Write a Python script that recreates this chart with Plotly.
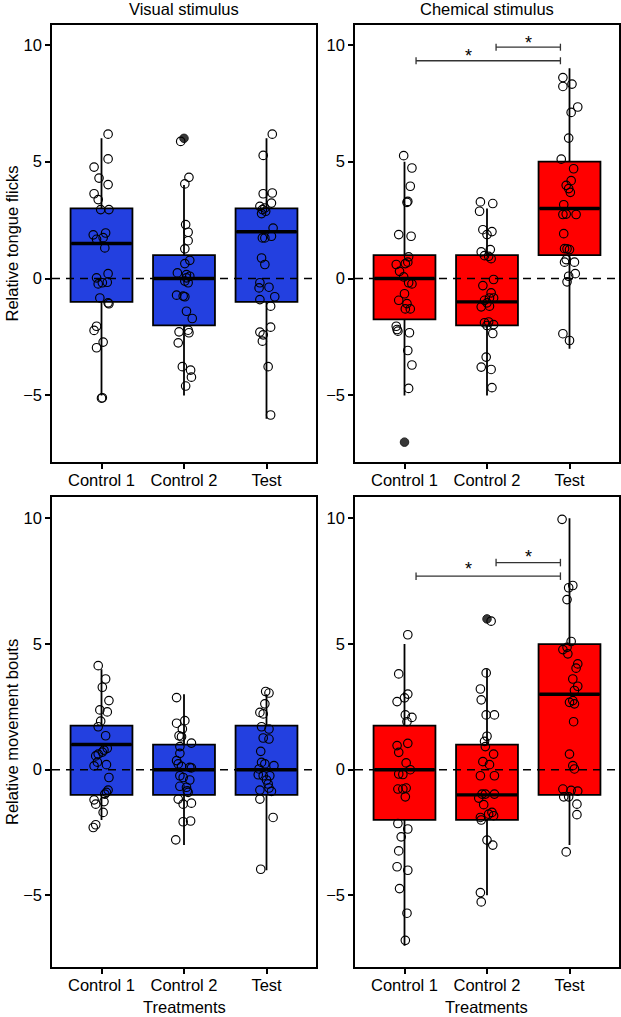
import plotly.graph_objects as go

# ---------------- data ----------------
TREATMENTS = ["Control 1", "Control 2", "Test"]
POSITIONS = [1, 2, 3]
Y_TICKS = [-5, 0, 5, 10]
Y_TICK_TEXT = ["\u22125", "0", "5", "10"]

# box statistics: q1, median, q3, lower whisker, upper whisker
VIS_FLICK_Q1 = [-1, -2, -1]
VIS_FLICK_MED = [1.5, 0, 2]
VIS_FLICK_Q3 = [3, 1, 3]
VIS_FLICK_LO = [-5, -5, -6]
VIS_FLICK_HI = [6, 4, 6]

CHEM_FLICK_Q1 = [-1.75, -2, 1]
CHEM_FLICK_MED = [0, -1, 3]
CHEM_FLICK_Q3 = [1, 1, 5]
CHEM_FLICK_LO = [-5, -5, -3]
CHEM_FLICK_HI = [5, 3, 9]

VIS_MOVE_Q1 = [-1, -1, -1]
VIS_MOVE_MED = [1, 0, 0]
VIS_MOVE_Q3 = [1.75, 1, 1.75]
VIS_MOVE_LO = [-2, -3, -4]
VIS_MOVE_HI = [4, 3, 3]

CHEM_MOVE_Q1 = [-2, -2, -1]
CHEM_MOVE_MED = [0, -1, 3]
CHEM_MOVE_Q3 = [1.75, 1, 5]
CHEM_MOVE_LO = [-7, -5, -3]
CHEM_MOVE_HI = [5, 4, 10]

# outliers (boxplot)
VIS_FLICK_OUT_X = [2]
VIS_FLICK_OUT_Y = [6]
CHEM_FLICK_OUT_X = [1]
CHEM_FLICK_OUT_Y = [-7]
VIS_MOVE_OUT_X = []
VIS_MOVE_OUT_Y = []
CHEM_MOVE_OUT_X = [2]
CHEM_MOVE_OUT_Y = [6]

# jittered observations
VIS_FLICK_X = [1.08, 1.08, 0.91, 0.97, 1.08, 0.91, 0.96, 0.99, 1.09, 0.90, 1.05, 1.02, 0.94, 1.04,
               0.94, 1.08, 0.96, 1.01, 1.07, 0.98, 1.08, 1.09, 0.94, 0.91, 1.02, 0.94, 1.01, 1.00,
               1.96, 2.01, 2.06, 2.02, 2.05, 2.05, 2.01, 2.07, 2.01, 1.92, 2.03, 2.07, 2.01, 2.05,
               2.03, 1.91, 2.01, 1.99, 2.03, 2.10, 1.94, 2.05, 2.06, 1.93, 1.98, 2.08, 2.09, 2.02,
               3.07, 2.96, 2.96, 3.07, 3.06, 2.92, 2.95, 2.98, 2.94, 2.99, 3.08, 3.06, 2.98, 2.95,
               2.94, 2.98, 2.92, 2.91, 3.03, 3.10, 2.92, 3.05, 3.05, 2.92, 2.96, 2.95, 3.02, 3.05]
VIS_FLICK_Y = [6.18, 5.12, 4.77, 4.30, 4.02, 3.63, 3.38, 2.95, 2.95, 1.87, 1.95, 1.75, 1.68, 1.31,
               0.03, 0.21, -0.23, -0.18, -0.16, -0.83, -1.04, -1.08, -2.04, -2.22, -2.72, -2.96, -5.10, -5.12,
               5.87, 4.05, 4.33, 2.31, 1.98, 1.62, 1.27, 0.78, 0.64, 0.24, 0.17, 0.10, -0.11, -0.18,
               0.03, -0.71, -0.78, -0.75, -1.40, -1.71, -2.28, -2.21, -2.32, -2.75, -3.77, -3.92, -4.22, -4.60,
               6.18, 5.27, 3.63, 3.66, 3.23, 3.09, 2.95, 3.02, 2.78, 2.88, 2.16, 1.81, 1.74, 1.74,
               0.88, 0.60, -0.18, -0.40, -0.37, -0.78, -0.90, -1.18, -2.08, -2.29, -2.41, -2.68, -3.77, -5.84]

CHEM_FLICK_X = [0.99, 1.09, 1.07, 1.04, 1.03, 0.93, 1.08, 1.05, 1.04, 1.01, 0.90, 0.94, 0.99, 1.05,
                1.09, 1.00, 0.93, 1.03, 1.01, 1.07, 0.90, 0.91, 0.92, 1.06, 1.04, 1.09, 1.05,
                1.92, 2.07, 1.91, 1.95, 2.06, 2.00, 1.93, 2.04, 1.97, 2.02, 2.05, 2.08, 1.95, 2.05,
                2.03, 2.08, 1.97, 2.00, 1.93, 2.03, 1.97, 2.02, 2.08, 2.00, 2.07, 1.99, 1.93, 2.05, 2.06,
                2.92, 3.03, 2.92, 3.10, 3.02, 2.99, 2.90, 3.05, 3.02, 2.96, 2.99, 3.01, 2.93, 2.92,
                2.96, 3.08, 2.93, 2.94, 2.97, 3.00, 2.94, 3.06, 2.96, 3.07, 2.99, 2.97, 2.92, 3.00]
CHEM_FLICK_Y = [5.26, 4.73, 3.95, 3.30, 3.26, 1.88, 1.81, 0.93, 0.70, 0.64, 0.60, 0.31, 0.07, -0.18,
                -0.23, -0.65, -0.93, -1.07, -1.30, -1.30, -2.04, -2.18, -2.25, -2.32, -3.08, -3.70, -4.70,
                3.28, 3.21, 2.88, 2.09, 2.01, 1.88, 1.14, 1.24, 0.98, 0.95, 0.85, -0.04, -0.30, -0.61,
                -0.83, -0.83, -0.93, -1.04, -1.21, -1.18, -1.89, -1.86, -1.97, -2.01, -2.35, -3.36, -3.79, -3.89, -4.67,
                8.60, 8.32, 8.22, 7.34, 7.11, 6.01, 5.11, 4.70, 4.19, 3.99, 3.85, 3.69, 3.16, 2.74,
                2.76, 2.74, 1.92, 1.28, 1.27, 1.24, 0.70, 0.70, 0.81, 0.21, 0.10, -0.14, -2.36, -2.65]

VIS_MOVE_X = [0.96, 1.05, 1.01, 1.09, 0.98, 1.07, 0.99, 0.96, 1.05, 1.07, 1.03, 1.01, 0.96, 0.93,
              0.95, 1.06, 0.91, 1.09, 1.08, 1.06, 1.04, 0.91, 1.03, 0.93, 1.02, 0.93, 0.90,
              1.91, 2.01, 1.91, 1.98, 1.94, 1.97, 2.09, 1.95, 1.95, 1.91, 1.93, 1.97, 2.07, 2.09,
              1.95, 1.99, 2.07, 1.95, 2.03, 2.04, 2.05, 1.93, 1.99, 2.09, 1.99, 2.08, 1.90,
              2.99, 3.03, 2.98, 2.92, 2.96, 2.94, 3.03, 2.96, 3.03, 2.93, 2.94, 2.98, 3.09, 2.91,
              2.90, 2.96, 3.04, 3.00, 3.02, 3.03, 2.92, 3.06, 2.92, 3.08, 2.93]
VIS_MOVE_Y = [4.14, 3.61, 3.28, 2.75, 2.38, 2.30, 1.93, 1.71, 1.35, 0.85, 0.78, 0.70, 0.62, 0.55,
              0.30, 0.20, 0.15, -0.31, -0.81, -0.90, -0.97, -1.20, -1.27, -1.37, -1.70, -2.19, -2.30,
              2.87, 1.95, 1.85, 1.62, 1.35, 1.31, 1.06, 0.92, 0.65, 0.36, 0.23, 0.13, 0.09, 0.07,
              -0.24, -0.31, -0.41, -0.66, -0.70, -0.84, -0.90, -1.17, -1.37, -1.33, -2.07, -2.04, -2.79,
              3.11, 3.05, 2.62, 2.28, 2.22, 1.71, 1.62, 1.26, 1.22, 0.73, 0.29, 0.23, 0.16, 0.03,
              -0.20, -0.24, -0.24, -0.41, -0.57, -0.73, -0.81, -0.86, -1.17, -1.90, -3.96]

CHEM_MOVE_X = [1.04, 0.93, 1.04, 1.00, 0.91, 1.01, 1.09, 1.03, 1.04, 0.91, 0.93, 1.02, 1.07, 0.93,
               0.98, 0.92, 0.98, 1.02, 1.01, 0.92, 1.04, 0.96, 0.93, 0.91, 1.04, 0.94, 1.03, 1.01,
               2.05, 1.99, 1.92, 1.93, 1.99, 2.09, 2.00, 1.97, 1.98, 2.08, 1.95, 2.03, 1.92, 2.09,
               1.94, 1.98, 2.09, 1.90, 1.96, 2.02, 2.06, 2.08, 1.92, 1.93, 2.00, 2.07, 1.92, 1.93,
               2.91, 2.99, 3.04, 2.97, 3.02, 2.92, 2.97, 2.98, 3.10, 3.08, 3.04, 3.10, 3.06, 3.00,
               3.04, 3.06, 3.05, 3.00, 3.04, 3.06, 2.92, 3.02, 3.10, 2.93, 2.99, 3.09, 3.09, 2.96]
CHEM_MOVE_Y = [5.37, 3.81, 3.01, 2.86, 2.71, 2.18, 2.08, 1.91, 1.05, 0.96, 0.69, 0.27, 0.00, -0.17,
               -0.19, -0.77, -0.77, -0.73, -1.08, -2.14, -2.36, -2.67, -3.23, -3.86, -4.00, -4.73, -5.71, -6.79,
               5.91, 3.85, 3.21, 2.78, 2.18, 2.18, 1.33, 1.13, 0.92, 0.62, 0.32, 0.20, -0.24, -0.24,
               -0.97, -0.97, -0.97, -1.13, -1.39, -1.77, -1.70, -1.83, -1.90, -2.00, -2.80, -3.00, -4.89, -5.26,
               9.96, 7.24, 7.33, 6.77, 5.10, 4.78, 4.87, 4.61, 4.21, 4.04, 3.61, 3.32, 3.15, 2.68,
               2.75, 2.62, 1.91, 0.62, 0.16, 0.03, -0.77, -0.82, -0.85, -1.08, -1.08, -1.37, -1.79, -3.27]

# significance brackets (chemical panels)
CHEM_FLICK_SIG_X0 = [1.14, 2.11]
CHEM_FLICK_SIG_X1 = [2.89, 2.89]
CHEM_FLICK_SIG_Y = [9.32, 9.90]
CHEM_FLICK_STAR_X = [1.77, 2.50]
CHEM_FLICK_STAR_Y = [9.54, 10.07]

CHEM_MOVE_SIG_X0 = [1.14, 2.11]
CHEM_MOVE_SIG_X1 = [2.89, 2.89]
CHEM_MOVE_SIG_Y = [7.70, 8.24]
CHEM_MOVE_STAR_X = [1.77, 2.50]
CHEM_MOVE_STAR_Y = [7.97, 8.46]

SIG_LABEL = "*"

# ---------------- style ----------------
W, H = 621, 1017
BLUE = "#2340E0"
RED = "#FF0000"
FONT = "Liberation Sans, Arial, sans-serif"
FS = 16.5
BOX_WIDTH = 0.75
X_RANGE = [0.4, 3.6]
Y_RANGE = [-7.85, 10.85]

def px_x(a, b):
    return [a / W, b / W]

def px_y(top, bottom):
    return [1 - bottom / H, 1 - top / H]

DOMAINS = {
    1: (px_x(52, 316), px_y(25, 462)),
    2: (px_x(355, 619), px_y(25, 462)),
    3: (px_x(52, 316), px_y(497, 967)),
    4: (px_x(355, 619), px_y(497, 967)),
}

panels = [
    (1, BLUE, VIS_FLICK_Q1, VIS_FLICK_MED, VIS_FLICK_Q3, VIS_FLICK_LO, VIS_FLICK_HI,
     VIS_FLICK_X, VIS_FLICK_Y, VIS_FLICK_OUT_X, VIS_FLICK_OUT_Y, None),
    (2, RED, CHEM_FLICK_Q1, CHEM_FLICK_MED, CHEM_FLICK_Q3, CHEM_FLICK_LO, CHEM_FLICK_HI,
     CHEM_FLICK_X, CHEM_FLICK_Y, CHEM_FLICK_OUT_X, CHEM_FLICK_OUT_Y,
     (CHEM_FLICK_SIG_X0, CHEM_FLICK_SIG_X1, CHEM_FLICK_SIG_Y, CHEM_FLICK_STAR_X, CHEM_FLICK_STAR_Y)),
    (3, BLUE, VIS_MOVE_Q1, VIS_MOVE_MED, VIS_MOVE_Q3, VIS_MOVE_LO, VIS_MOVE_HI,
     VIS_MOVE_X, VIS_MOVE_Y, VIS_MOVE_OUT_X, VIS_MOVE_OUT_Y, None),
    (4, RED, CHEM_MOVE_Q1, CHEM_MOVE_MED, CHEM_MOVE_Q3, CHEM_MOVE_LO, CHEM_MOVE_HI,
     CHEM_MOVE_X, CHEM_MOVE_Y, CHEM_MOVE_OUT_X, CHEM_MOVE_OUT_Y,
     (CHEM_MOVE_SIG_X0, CHEM_MOVE_SIG_X1, CHEM_MOVE_SIG_Y, CHEM_MOVE_STAR_X, CHEM_MOVE_STAR_Y)),
]

fig = go.Figure()
annotations = []
shapes = []

for (k, color, q1, med, q3, lo, hi, jx, jy, ox, oy, sig) in panels:
    xa = "x" if k == 1 else f"x{k}"
    ya = "y" if k == 1 else f"y{k}"
    # box
    fig.add_trace(go.Box(
        x=POSITIONS, q1=q1, median=med, q3=q3, lowerfence=lo, upperfence=hi,
        width=BOX_WIDTH, fillcolor=color, line=dict(color="black", width=1.8),
        whiskerwidth=0, boxpoints=False, xaxis=xa, yaxis=ya,
        showlegend=False, hoverinfo="skip"))
    # thick median
    mx, my = [], []
    for p, m in zip(POSITIONS, med):
        mx += [p - BOX_WIDTH / 2 + 0.01, p + BOX_WIDTH / 2 - 0.01, None]
        my += [m, m, None]
    fig.add_trace(go.Scatter(x=mx, y=my, mode="lines", line=dict(color="black", width=3.4),
                             xaxis=xa, yaxis=ya, showlegend=False, hoverinfo="skip"))
    # outliers
    if ox:
        fig.add_trace(go.Scatter(x=ox, y=oy, mode="markers",
                                 marker=dict(size=8.5, color="#383838", line=dict(color="#222222", width=1)),
                                 xaxis=xa, yaxis=ya, showlegend=False, hoverinfo="skip"))
    # jittered points
    fig.add_trace(go.Scatter(x=jx, y=jy, mode="markers",
                             marker=dict(size=8.5, color="rgba(0,0,0,0)",
                                         line=dict(color="black", width=1.15)),
                             xaxis=xa, yaxis=ya, showlegend=False, hoverinfo="skip"))
    # dashed zero line
    shapes.append(dict(type="line", xref=f"{xa} domain", x0=0, x1=1, yref=ya, y0=0, y1=0,
                       line=dict(color="black", width=1.6, dash="8px,6px"), layer="above"))
    # significance brackets
    if sig:
        x0s, x1s, ys, sx, sy = sig
        bx, by = [], []
        cap = 0.15
        for a, b, yv in zip(x0s, x1s, ys):
            bx += [a, b, None, a, a, None, b, b, None]
            by += [yv, yv, None, yv - cap, yv + cap, None, yv - cap, yv + cap, None]
        fig.add_trace(go.Scatter(x=bx, y=by, mode="lines", line=dict(color="#333333", width=1.3),
                                 xaxis=xa, yaxis=ya, showlegend=False, hoverinfo="skip"))
        for xv, yv in zip(sx, sy):
            annotations.append(dict(x=xv, y=yv, xref=xa, yref=ya, text=SIG_LABEL, showarrow=False,
                                    font=dict(size=18, color="black", family=FONT),
                                    xanchor="center", yanchor="middle"))

axis_common = dict(showline=True, mirror=True, linecolor="black", linewidth=1.5,
                   ticks="outside", ticklen=5, tickwidth=1.5, tickcolor="black",
                   showgrid=False, zeroline=False,
                   tickfont=dict(size=FS, color="black", family=FONT))

layout = dict(width=W, height=H, margin=dict(l=0, r=0, t=0, b=0),
              paper_bgcolor="white", plot_bgcolor="white", showlegend=False,
              font=dict(family=FONT, color="black"))

for k, (dx, dy) in DOMAINS.items():
    xname = "xaxis" if k == 1 else f"xaxis{k}"
    yname = "yaxis" if k == 1 else f"yaxis{k}"
    xa = "x" if k == 1 else f"x{k}"
    ya = "y" if k == 1 else f"y{k}"
    layout[xname] = dict(axis_common, domain=dx, anchor=ya, range=X_RANGE,
                         tickmode="array", tickvals=POSITIONS, ticktext=TREATMENTS,
                         ticklabelstandoff=-3)
    layout[yname] = dict(axis_common, domain=dy, anchor=xa, range=Y_RANGE,
                         tickmode="array", tickvals=Y_TICKS, ticktext=Y_TICK_TEXT)

title_font = dict(size=FS, color="black", family=FONT)
left_cx = (DOMAINS[1][0][0] + DOMAINS[1][0][1]) / 2
right_cx = (DOMAINS[2][0][0] + DOMAINS[2][0][1]) / 2
annotations += [
    dict(x=left_cx, y=1 - 9 / H, xref="paper", yref="paper", text="Visual stimulus",
         showarrow=False, font=title_font, xanchor="center", yanchor="middle"),
    dict(x=right_cx, y=1 - 9 / H, xref="paper", yref="paper", text="Chemical stimulus",
         showarrow=False, font=title_font, xanchor="center", yanchor="middle"),
    dict(x=12 / W, y=sum(DOMAINS[1][1]) / 2, xref="paper", yref="paper", text="Relative tongue flicks",
         showarrow=False, font=title_font, textangle=-90, xanchor="center", yanchor="middle"),
    dict(x=12 / W, y=sum(DOMAINS[3][1]) / 2, xref="paper", yref="paper", text="Relative movement bouts",
         showarrow=False, font=title_font, textangle=-90, xanchor="center", yanchor="middle"),
    dict(x=left_cx, y=1 - 1007 / H, xref="paper", yref="paper", text="Treatments",
         showarrow=False, font=title_font, xanchor="center", yanchor="middle"),
    dict(x=right_cx, y=1 - 1007 / H, xref="paper", yref="paper", text="Treatments",
         showarrow=False, font=title_font, xanchor="center", yanchor="middle"),
]
layout["annotations"] = annotations
layout["shapes"] = shapes

fig.update_layout(**layout)
fig.write_html("out.html")
